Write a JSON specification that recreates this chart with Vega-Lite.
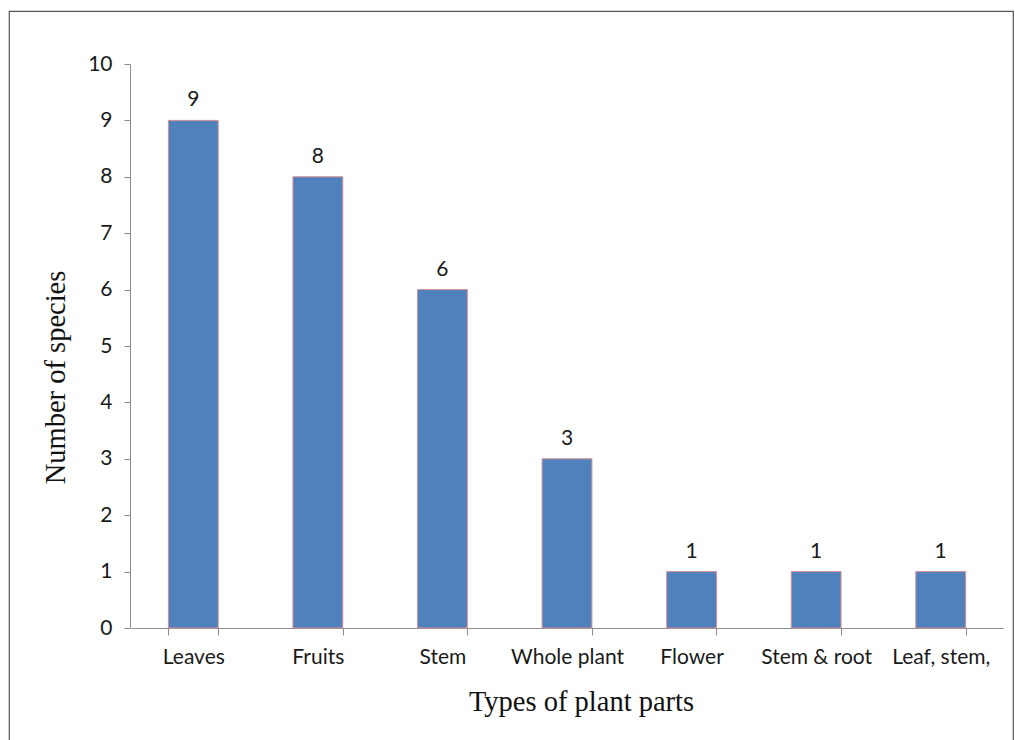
{
  "$schema": "https://vega.github.io/schema/vega-lite/v6.json",
  "autosize": {"type": "none"},
  "padding": {"left": 9, "top": 11, "right": 2, "bottom": 0},
  "width": 1004,
  "height": 735,
  "background": "white",
  "config": {
    "view": {"stroke": "#555555", "strokeWidth": 1.2},
    "axis": {"grid": false, "domainColor": "#8c8c8c", "tickColor": "#8c8c8c", "labelFont": "Lato", "labelFontSize": 21, "labelColor": "#1a1a1a", "titleFont": "Liberation Serif", "titleFontSize": 28.5, "titleFontWeight": "normal", "titleColor": "#111111"}
  },
  "data": {
    "values": [
      {"part": "Leaves", "species": 9},
      {"part": "Fruits", "species": 8},
      {"part": "Stem", "species": 6},
      {"part": "Whole plant", "species": 3},
      {"part": "Flower", "species": 1},
      {"part": "Stem & root", "species": 1},
      {"part": "Leaf, stem,", "species": 1}
    ]
  },
  "encoding": {
    "x": {
      "field": "part", "type": "nominal", "sort": null,
      "scale": {"range": [122, 994], "paddingInner": 0.6, "paddingOuter": 0.3},
      "axis": {"title": "Types of plant parts", "labelAngle": 0, "offset": -118, "tickBand": "extent", "tickSize": 7, "labelPadding": 11, "labelOverlap": false, "titleX": 572, "titleY": 82, "titleBaseline": "alphabetic", "titleAnchor": null}
    },
    "y": {
      "field": "species", "type": "quantitative",
      "scale": {"domain": [0, 10], "range": [617, 53], "nice": false},
      "axis": {"title": "Number of species", "offset": -121, "values": [0,1,2,3,4,5,6,7,8,9,10], "labelOverlap": false, "tickSize": 6, "labelPadding": 12, "titleX": -66, "titleY": 366, "titleBaseline": "alphabetic", "titleAngle": -90}
    }
  },
  "layer": [
    {"mark": {"type": "bar", "color": "#4F81BD", "stroke": "#D88E94", "strokeWidth": 1}},
    {"mark": {"type": "text", "baseline": "bottom", "dy": -10, "font": "Lato", "fontSize": 21, "color": "#1a1a1a"},
     "encoding": {"text": {"field": "species", "type": "quantitative"}}}
  ]
}
